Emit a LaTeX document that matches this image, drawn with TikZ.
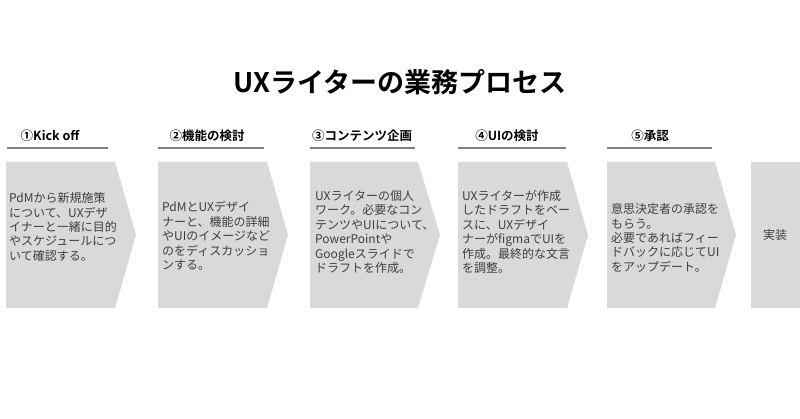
\documentclass[tikz,border=0pt]{standalone}
\usepackage{fontspec}
\setmainfont{Noto Sans CJK JP}
\newfontfamily\jpfont{Noto Sans CJK JP}
\newfontfamily\jpbold{Noto Sans CJK JP Bold}
\definecolor{boxgray}{HTML}{D9D9D9}
\definecolor{bodytext}{HTML}{3F3F3F}
\definecolor{rulegray}{HTML}{808080}
\begin{document}
\begin{tikzpicture}[x=1pt,y=-1pt,
  chev/.style={fill=boxgray},
  bodytxt/.style={anchor=west,align=left,inner sep=0pt,text=bodytext,font=\jpfont\fontsize{12}{14.4}\selectfont},
  headtxt/.style={inner sep=0pt,text=black,font=\jpbold\fontsize{12.5}{14}\selectfont},
  headrule/.style={draw=rulegray,line width=1.3pt},
  titletxt/.style={inner sep=0pt,font=\jpbold\fontsize{27}{30}\selectfont}]
\useasboundingbox[fill=white] (0,0) rectangle (800,419);
% title
\node[titletxt] (title) at (400,82) {UXライターの業務プロセス};
% headers
\node[headtxt] (h1) at (50,136) {①Kick off};
\node[headtxt] (h2) at (207,136) {②機能の検討};
\node[headtxt] (h3) at (362,136) {③コンテンツ企画};
\node[headtxt] (h4) at (507,136) {④UIの検討};
\node[headtxt] (h5) at (650,136) {⑤承認};
\coordinate (r1a) at (7,148); \coordinate (r1b) at (108,148);
\coordinate (r2a) at (158,148); \coordinate (r2b) at (264,148);
\coordinate (r3a) at (310,148); \coordinate (r3b) at (415,148);
\coordinate (r4a) at (458,148); \coordinate (r4b) at (566,148);
\coordinate (r5a) at (607,148); \coordinate (r5b) at (712,148);
\draw[headrule] (r1a) -- (r1b);
\draw[headrule] (r2a) -- (r2b);
\draw[headrule] (r3a) -- (r3b);
\draw[headrule] (r4a) -- (r4b);
\draw[headrule] (r5a) -- (r5b);
% chevrons
\fill[chev] (6,162) -- (115,162) -- (136,235) -- (115,308) -- (6,308) -- cycle;
\fill[chev] (158,162) -- (267,162) -- (288,235) -- (267,308) -- (158,308) -- cycle;
\fill[chev] (310,162) -- (418,162) -- (440,235) -- (418,308) -- (310,308) -- cycle;
\fill[chev] (458,162) -- (567,162) -- (588,235) -- (567,308) -- (458,308) -- cycle;
\fill[chev] (607,162) -- (715,162) -- (736,235) -- (715,308) -- (607,308) -- cycle;
\fill[chev] (751,162) rectangle (800,308);
% texts
\node[bodytxt] (t1) at (9,227) {PdMから新規施策\\について、UXデザ\\イナーと一緒に目的\\やスケジュールにつ\\いて確認する。};
\node[bodytxt] (t2) at (162,236) {PdMとUXデザイ\\ナーと、機能の詳細\\やUIのイメージなど\\のをディスカッショ\\ンする。};
\node[bodytxt] (t3) at (315,232) {UXライターの個人\\ワーク。必要なコン\\テンツやUIについて、\\PowerPointや\\Googleスライドで\\ドラフトを作成。};
\node[bodytxt] (t4) at (462,232) {UXライターが作成\\したドラフトをベー\\スに、UXデザイ\\ナーがfigmaでUIを\\作成。最終的な文言\\を調整。};
\node[bodytxt] (t5) at (611,238) {意思決定者の承認を\\もらう。\\必要であればフィー\\ドバックに応じてUI\\をアップデート。};
\node[inner sep=0pt,text=bodytext,font=\jpfont\fontsize{12}{14.4}\selectfont] (t6) at (775,235) {実装};
\end{tikzpicture}
\end{document}
